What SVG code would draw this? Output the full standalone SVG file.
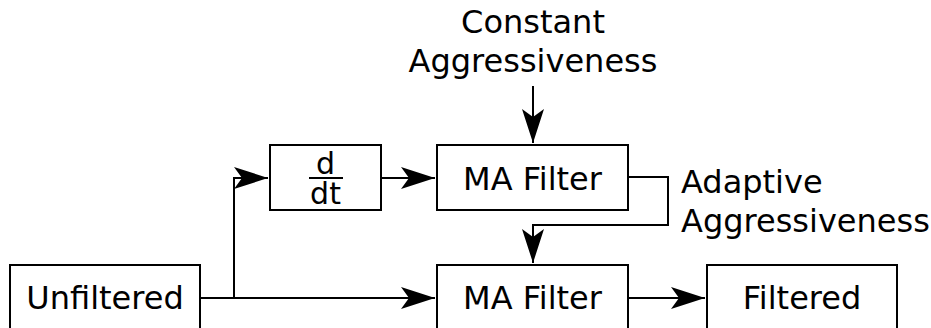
<svg xmlns="http://www.w3.org/2000/svg" width="931" height="328" viewBox="0 0 931 328">
<style>
.box{fill:#fff;stroke:#000;stroke-width:2}
.t{font-family:"DejaVu Sans",sans-serif;font-size:32px;fill:#000}
.f{font-family:"DejaVu Sans",sans-serif;font-size:30px;fill:#000}
.c{stroke:#000;stroke-width:2;fill:none}
</style>
<defs>
<marker id="a" markerUnits="userSpaceOnUse" markerWidth="40" markerHeight="30" viewBox="-36 -15 40 30" refX="0" refY="0" orient="auto">
<path d="M0,0 L-34,-11 L-26,0 L-34,11 Z" fill="#000"/>
</marker>
</defs>
<rect width="931" height="328" fill="#fff"/>
<g id="connectors">
<polyline class="c" points="200,298 435,298" marker-end="url(#a)"/>
<polyline class="c" points="234,298 234,178 268,178" marker-end="url(#a)"/>
<polyline class="c" points="381,178 435,178" marker-end="url(#a)"/>
<polyline class="c" points="533,86 533,143" marker-end="url(#a)"/>
<polyline class="c" points="628,177 668,177 668,225 533,225 533,263" marker-end="url(#a)"/>
<polyline class="c" points="628,298 705,298" marker-end="url(#a)"/>
</g>
<g id="unfiltered">
<rect class="box" x="10" y="265" width="190" height="80"/>
<text class="t" x="105" y="309" text-anchor="middle">Unfiltered</text>
</g>
<g id="ddt">
<rect class="box" x="270" y="145" width="111" height="65"/>
<text class="f" x="325.5" y="174" text-anchor="middle">d</text>
<line x1="309" y1="178" x2="343" y2="178" stroke="#000" stroke-width="2"/>
<text class="f" x="325.5" y="204" text-anchor="middle">dt</text>
</g>
<g id="ma1">
<rect class="box" x="437" y="145" width="191" height="65"/>
<text class="t" x="532.5" y="190" text-anchor="middle">MA Filter</text>
</g>
<g id="ma2">
<rect class="box" x="437" y="265" width="191" height="80"/>
<text class="t" x="532.5" y="309" text-anchor="middle">MA Filter</text>
</g>
<g id="filtered">
<rect class="box" x="707" y="265" width="190" height="80"/>
<text class="t" x="802" y="309" text-anchor="middle">Filtered</text>
</g>
<g id="constant">
<text class="t" x="533" y="33" text-anchor="middle">Constant</text>
<text class="t" x="533" y="72" text-anchor="middle">Aggressiveness</text>
</g>
<g id="adaptive">
<text class="t" x="681" y="193">Adaptive</text>
<text class="t" x="681" y="232">Aggressiveness</text>
</g>
</svg>
